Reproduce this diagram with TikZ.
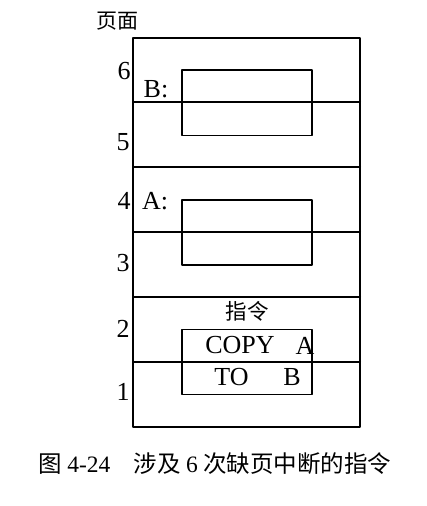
\documentclass[tikz,border=0pt]{standalone}
\usepackage{fontspec}
\setmainfont{Liberation Serif}
\newfontfamily\cjk{Noto Sans CJK SC}
\begin{document}
\begin{tikzpicture}[x=1pt,y=-1pt,line join=round,line cap=round,font=\fontsize{26}{30}\selectfont,declare function={pxl=133;pxr=360;pyt=37.5;ph=64.9;bxl=182;bxr=312;}]
\useasboundingbox (0,0) rectangle (427,506);
%\draw[color=gray!50,dashed] (0,0) grid[step=10] (427,506);
\draw[line width=2pt] (pxl,pyt) rectangle (pxr,pyt+6*ph);
\foreach \k in {1,...,5} \draw[line width=2pt] (pxl,pyt+\k*ph)--(pxr,pyt+\k*ph);
\draw[line width=1.5pt] (bxl,70) rectangle (bxr,135.3) (bxl,200) rectangle (bxr,265) (bxl,329.5) rectangle (bxr,394.5);
\node (ym) at (117,21) {\cjk\fontsize{21}{24}\selectfont 页面};
\node (p6) at (124,71) {6};
\node (p5) at (123,142) {5};
\node (p4) at (124,201) {4};
\node (p3) at (123,263) {3};
\node (p2) at (123,329) {2};
\node (p1) at (123,392) {1};
\node (lb) at (156,89) {B:};
\node (la) at (155,201) {A:};
\node (zl) at (247,311) {\cjk\fontsize{21.5}{24}\selectfont 指令};
\node (cp) at (240,345.5) {COPY};
\node (ca) at (305,345.5) {A};
\node (to) at (231.5,377) {TO};
\node (cb) at (292,377) {B};
\node[anchor=west] (cap) at (35,464) {\cjk\fontsize{23.5}{26}\selectfont 图 {\rmfamily 4-24}\quad 涉及 {\rmfamily 6} 次缺页中断的指令};
\end{tikzpicture}
\end{document}
